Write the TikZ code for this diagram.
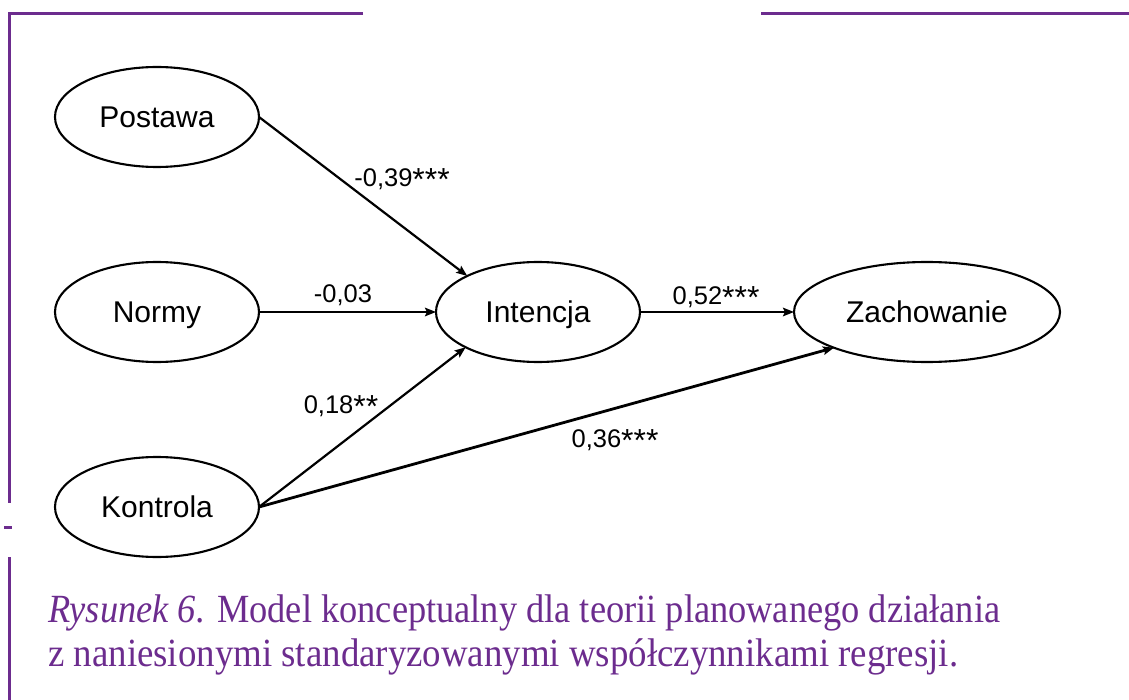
\documentclass[tikz,border=0pt]{standalone}
\usepackage{fontspec}
\usepackage{graphicx}
\setmainfont{Liberation Serif}
\setsansfont{Liberation Sans}
\usetikzlibrary{shapes.geometric,arrows.meta}

\definecolor{framepurple}{RGB}{108,44,142}

% significance star, a little larger than the font's own asterisk
\newcommand\sigstar{\raisebox{-0.17em}{\scalebox{1.25}{*}}}

\tikzset{
  var/.style={ellipse, draw, line width=2.1pt, inner sep=0pt, outer sep=0pt,
    minimum width=204pt, minimum height=100pt,
    text height=21.5pt, text depth=0pt,
    font=\sffamily\fontsize{30}{34}\selectfont},
  path/.style={line width=2.2pt, -{Stealth[length=11pt,width=8.5pt,inset=2pt]}},
  coef/.style={font=\sffamily\fontsize{25.5}{30}\selectfont, inner sep=0pt,
    text height=18.3pt, text depth=0pt},
  rule/.style={draw=framepurple, line width=3pt},
  caption/.style={text=framepurple, inner sep=0pt, anchor=base west,
    font=\fontsize{40}{46}\selectfont}
}

\begin{document}
\begin{tikzpicture}[x=1pt, y=-1pt]
  \useasboundingbox (0,0) rectangle (1129,700);

  % purple frame pieces
  \draw[rule] (363,14) -- (9,14) -- (9,503);
  \draw[rule] (761,14) -- (1129,14);
  \draw[rule] (4,527) -- (12,527);
  \draw[rule] (9,557) -- (9,700);

  % constructs
  \node[var] (post) at (157,117) {Postawa};
  \node[var] (norm) at (157,312) {Normy};
  \node[var] (kont) at (157,507) {Kontrola};
  \node[var] (int)  at (538,312) {Intencja};
  \node[var, minimum width=266pt] (zach) at (927,312) {Zachowanie};

  % regression paths
  \draw[path] (post.east) -- (int.153.8);
  \draw[path] (norm.east) -- (int.west);
  \draw[path] (kont.east) -- (int.206.9);
  \draw[path] (int.east) -- (zach.west);
  \draw[path, line width=2.8pt] (kont.east) -- (zach.201.6);

  % coefficients
  \node[coef] (c1) at (402,177) {-0,39\sigstar\sigstar\sigstar};
  \node[coef] (c2) at (343,293) {-0,03};
  \node[coef] (c3) at (716,295) {0,52\sigstar\sigstar\sigstar};
  \node[coef] (c4) at (341,404) {0,18\sigstar\sigstar};
  \node[coef] (c5) at (615,438) {0,36\sigstar\sigstar\sigstar};

  % caption
  \node[caption] (cap1) at (48,622)
    {\resizebox{952pt}{\height}{\textit{Rysunek 6.} Model konceptualny dla teorii planowanego działania}};
  \node[caption] (cap2) at (48,666)
    {\resizebox{910pt}{\height}{z naniesionymi standaryzowanymi współczynnikami regresji.}};
\end{tikzpicture}
\end{document}
